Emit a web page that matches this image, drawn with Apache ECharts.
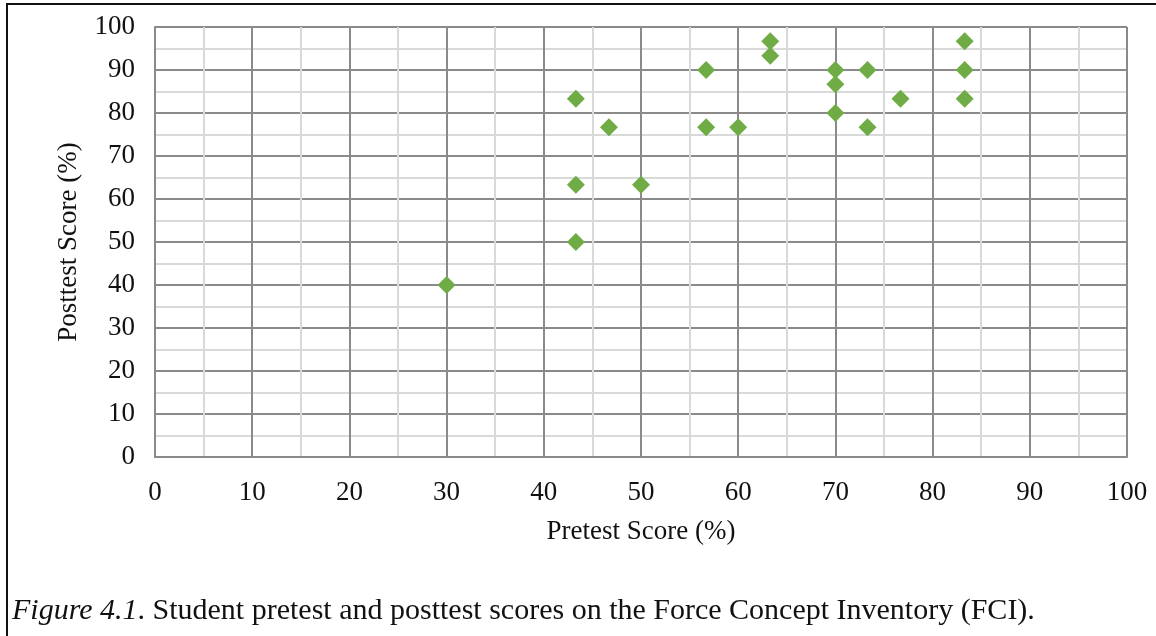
<!DOCTYPE html>
<html>
<head>
<meta charset="utf-8">
<script src="https://cdn.jsdelivr.net/npm/echarts@6/dist/echarts.min.js"></script>
<style>
html,body{margin:0;padding:0;background:#fff;}
#c{width:1156px;height:636px;}
</style>
</head>
<body>
<div id="c"></div>
<script>
// Pretest (%) and posttest (%) scores per student
const pretest  = [30.0, 43.3, 43.3, 43.3, 46.7, 50.0, 56.7, 56.7, 60.0, 63.3, 63.3, 70.0, 70.0, 70.0, 73.3, 73.3, 76.7, 83.3, 83.3, 83.3];
const posttest = [40.0, 83.3, 63.3, 50.0, 76.7, 63.3, 90.0, 76.7, 76.7, 96.7, 93.3, 90.0, 86.7, 80.0, 90.0, 76.7, 83.3, 96.7, 90.0, 83.3];
const xTitle = 'Pretest Score (%)';
const yTitle = 'Posttest Score (%)';
const captionLabel = 'Figure 4.1';
const captionText = '. Student pretest and posttest scores on the Force Concept Inventory (FCI).';

const points = pretest.map((x, i) => [x, posttest[i]]);
const serif = '"Liberation Serif", "DejaVu Serif", serif';
const major = '#8a8a8a';
const minor = '#d9d9d9';

const axisCommon = {
  type: 'value', min: 0, max: 100, interval: 10,
  axisLine: { show: true, lineStyle: { color: major, width: 2 } },
  axisTick: { show: false },
  minorTick: { show: false, splitNumber: 2 },
  splitLine: { show: true, lineStyle: { color: major, width: 2 } },
  minorSplitLine: { show: true, lineStyle: { color: minor, width: 2 } },
  axisLabel: { fontFamily: serif, fontSize: 27, color: '#111' },
  nameTextStyle: { fontFamily: serif, fontSize: 27, color: '#111' }
};

const chart = echarts.init(document.getElementById('c'), null, { renderer: 'canvas' });
chart.setOption({
  animation: false,
  backgroundColor: '#fff',
  grid: { left: 155, right: 29, top: 27, bottom: 179, containLabel: false },
  xAxis: Object.assign({}, axisCommon, {
    name: xTitle, nameLocation: 'middle', nameGap: 61,
    axisLabel: Object.assign({}, axisCommon.axisLabel, { margin: 22 })
  }),
  yAxis: Object.assign({}, axisCommon, {
    name: yTitle, nameLocation: 'middle', nameGap: 73, nameRotate: 90,
    axisLabel: Object.assign({}, axisCommon.axisLabel, { margin: 20 })
  }),
  series: [{
    type: 'scatter',
    data: points,
    symbol: 'diamond',
    symbolSize: 18,
    itemStyle: { color: '#6FAC46', opacity: 1 }
  }],
  graphic: [
    { type: 'line', shape: { x1: 6, y1: 4, x2: 1156, y2: 4 }, style: { stroke: '#111', lineWidth: 2 } },
    { type: 'line', shape: { x1: 7, y1: 3, x2: 7, y2: 636 }, style: { stroke: '#111', lineWidth: 2 } },
    {
      type: 'text', left: 12, top: 596,
      style: {
        text: '{i|' + captionLabel + '}{n|' + captionText + '}',
        rich: {
          i: { fontFamily: serif, fontSize: 30, fontStyle: 'italic', fill: '#111' },
          n: { fontFamily: serif, fontSize: 30, fill: '#111' }
        }
      }
    }
  ]
});
</script>
</body>
</html>
